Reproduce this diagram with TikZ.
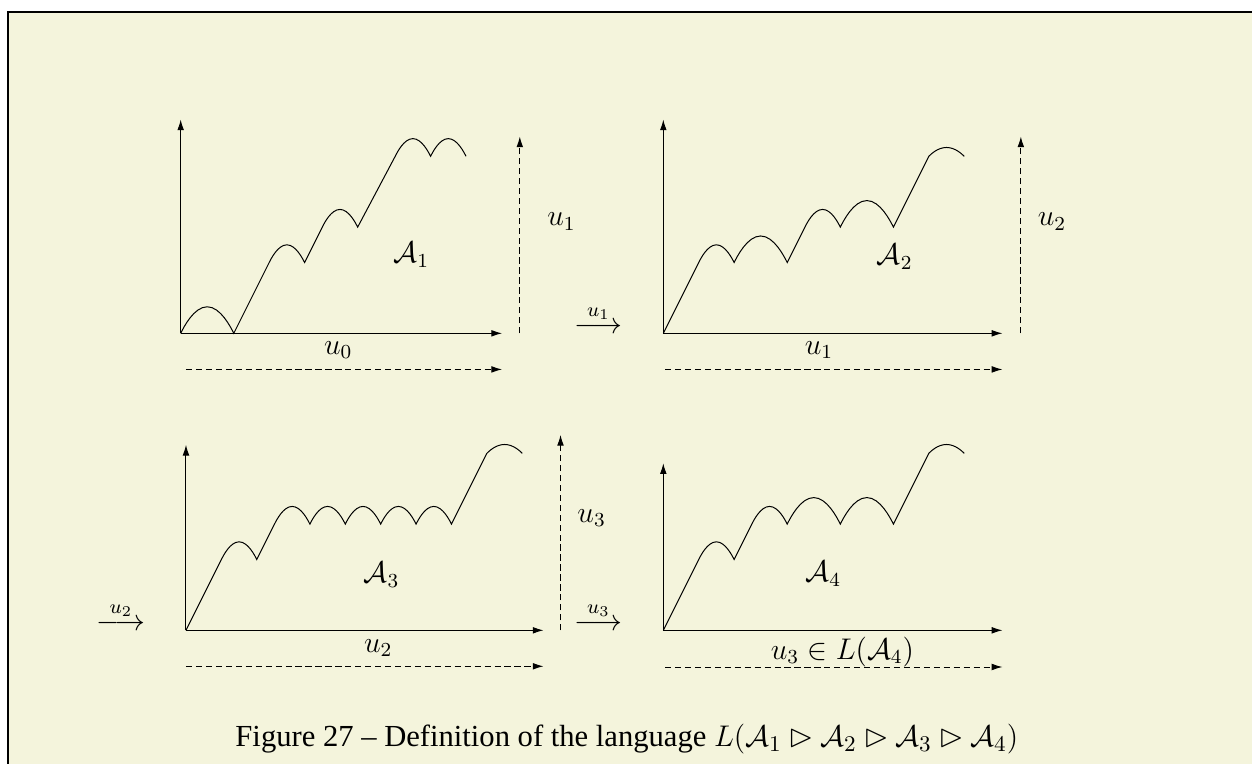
\documentclass[tikz,border=0pt]{standalone}
\usepackage{amsmath,amssymb}
\usepackage[no-math]{fontspec}
\newfontfamily\capfont{Liberation Serif}
\usetikzlibrary{arrows.meta}
\definecolor{paper}{RGB}{244,244,220}

\begin{document}
\begin{tikzpicture}[
  axis/.style={-{Latex[length=4.3pt,width=2.7pt]}},
  dashedarrow/.style={axis, dash pattern=on 2.5pt off 1.5pt},
  lab/.style={font=\large},
  ]

\useasboundingbox (0,0) rectangle (17.684,10.791);
\fill[paper] (0.113,0) rectangle (17.684,10.621);
\draw[line width=0.6pt] (0.113,0) -- (0.113,10.621) -- (17.684,10.621);

% first automaton
\begin{scope}[shift={(2.552,6.083)}]
\coordinate (o1) at (0,0);
\coordinate (y1) at (0,3.02);
\coordinate (x1) at (4.54,0);
\coordinate (h1s) at (0.075,-0.51);
\coordinate (h1e) at (4.54,-0.51);
\coordinate (v1s) at (4.79,0);
\coordinate (v1e) at (4.79,2.78);
\draw[axis] (o1) -- (y1);
\draw[axis] (o1) -- (x1);
\draw[dashedarrow] (h1s) -- (h1e);
\draw[dashedarrow] (v1s) -- (v1e);
\draw (o1) parabola bend (0.375,0.375) (0.75,0) -- (1.25,1)
  parabola bend (1.5,1.25) (1.75,1) -- (2,1.5)
  parabola bend (2.25,1.75) (2.5,1.5) -- (3.03,2.5)
  parabola bend (3.28,2.75) (3.53,2.5)
  parabola bend (3.78,2.75) (4.03,2.5);
\node[lab] (a1) at (3.26,1.106) {$\mathcal{A}_1$};
\node[lab] (u0) at (2.226,-0.236) {$u_0$};
\node[lab] (u1r) at (5.38,1.576) {$u_1$};
\end{scope}

% second automaton
\begin{scope}[shift={(9.369,6.083)}]
\coordinate (o2) at (0,0);
\coordinate (y2) at (0,3.02);
\coordinate (x2) at (4.79,0);
\coordinate (h2s) at (0.024,-0.51);
\coordinate (h2e) at (4.79,-0.51);
\coordinate (v2s) at (5.05,0);
\coordinate (v2e) at (5.05,2.78);
\draw[axis] (o2) -- (y2);
\draw[axis] (o2) -- (x2);
\draw[dashedarrow] (h2s) -- (h2e);
\draw[dashedarrow] (v2s) -- (v2e);
\draw (o2) -- (0.5,1) parabola bend (0.75,1.25) (1,1)
  parabola bend (1.375,1.375) (1.75,1) -- (2,1.5)
  parabola bend (2.25,1.75) (2.5,1.5)
  parabola bend (2.875,1.875) (3.25,1.5) -- (3.75,2.5)
  parabola bend (4,2.625) (4.25,2.5);
\node[lab] (a2) at (3.27,1.08) {$\mathcal{A}_2$};
\node[lab] (u1b) at (2.2,-0.236) {$u_1$};
\node[lab] (u2r) at (5.49,1.576) {$u_2$};
\node[lab,anchor=base] (t1) at (-0.915,0) {$\overset{u_1}{\longrightarrow}$};
\end{scope}

% third automaton
\begin{scope}[shift={(2.627,1.888)}]
\coordinate (o3) at (0,0);
\coordinate (y3) at (0,2.62);
\coordinate (x3) at (5.05,0);
\coordinate (h3s) at (0,-0.508);
\coordinate (h3e) at (5.05,-0.508);
\coordinate (v3s) at (5.29,0);
\coordinate (v3e) at (5.29,2.76);
\draw[axis] (o3) -- (y3);
\draw[axis] (o3) -- (x3);
\draw[dashedarrow] (h3s) -- (h3e);
\draw[dashedarrow] (v3s) -- (v3e);
\draw (o3) -- (0.5,1) parabola bend (0.75,1.25) (1,1) -- (1.25,1.5)
  \foreach \x in {1.25,1.75,2.25,2.75,3.25} {
    parabola bend (\x+0.25,1.75) (\x+0.5,1.5)
  }
  -- (4.25,2.5) parabola bend (4.5,2.625) (4.75,2.5);
\node[lab] (a3) at (2.764,0.787) {$\mathcal{A}_3$};
\node[lab] (u2b) at (2.716,-0.249) {$u_2$};
\node[lab] (u3r) at (5.73,1.588) {$u_3$};
\node[lab,anchor=base] (t2) at (-0.92,0) {$\overset{u_2}{\longrightarrow}$};
\end{scope}

% fourth automaton
\begin{scope}[shift={(9.369,1.888)}]
\coordinate (o4) at (0,0);
\coordinate (y4) at (0,2.36);
\coordinate (x4) at (4.79,0);
\coordinate (h4s) at (0.024,-0.518);
\coordinate (h4e) at (4.79,-0.518);
\draw[axis] (o4) -- (y4);
\draw[axis] (o4) -- (x4);
\draw[dashedarrow] (h4s) -- (h4e);
\draw (o4) -- (0.5,1) parabola bend (0.75,1.25) (1,1) -- (1.25,1.5)
  parabola bend (1.5,1.75) (1.75,1.5)
  parabola bend (2.125,1.875) (2.5,1.5)
  parabola bend (2.875,1.875) (3.25,1.5) -- (3.75,2.5)
  parabola bend (4,2.625) (4.25,2.5);
\node[lab] (a4) at (2.26,0.80) {$\mathcal{A}_4$};
\node[lab] (u3b) at (2.53,-0.3) {$u_3 \in L(\mathcal{A}_4)$};
\node[lab,anchor=base] (t3) at (-0.915,0) {$\overset{u_3}{\longrightarrow}$};
\end{scope}

\node[anchor=base west,inner sep=0pt] (cap) at (3.319,0.244)
  {\capfont\fontsize{12.3}{15}\selectfont Figure 27 – Definition of the language
   {\fontsize{13}{15}\selectfont $L(\mathcal{A}_1 \rhd \mathcal{A}_2 \rhd \mathcal{A}_3 \rhd \mathcal{A}_4)$}};

\end{tikzpicture}
\end{document}
